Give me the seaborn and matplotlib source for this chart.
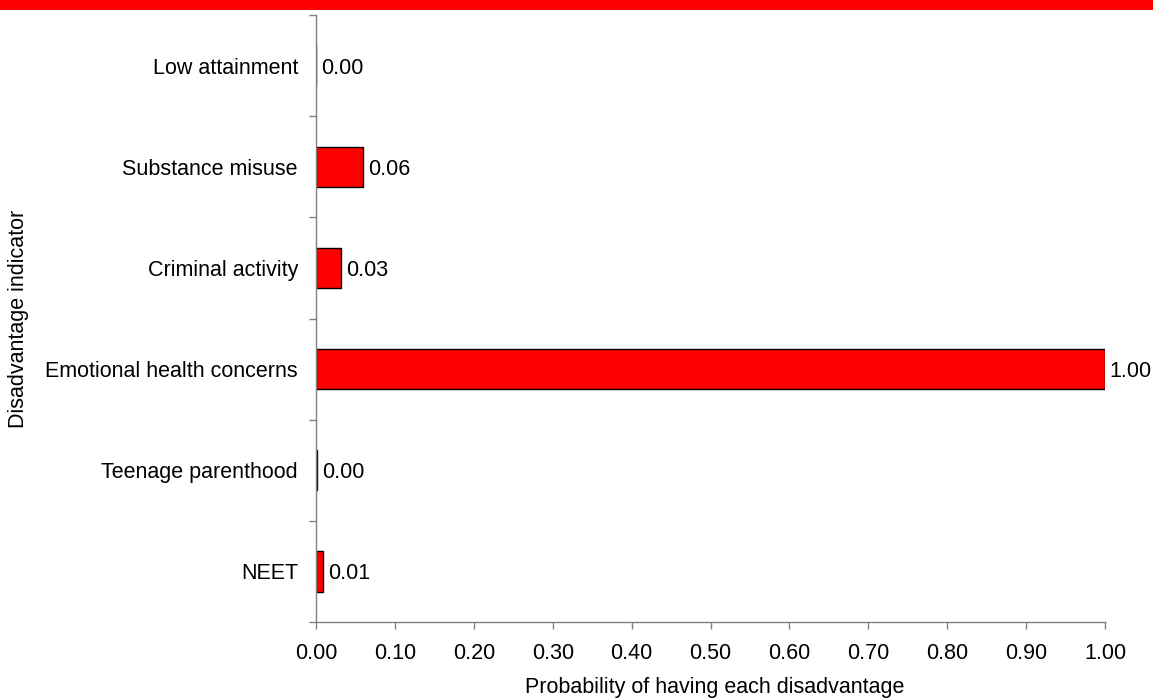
import numpy as np
import pandas as pd
import matplotlib
matplotlib.use("Agg")
import matplotlib.pyplot as plt
import seaborn as sns
from matplotlib.patches import Rectangle

categories = ["Low attainment", "Substance misuse", "Criminal activity",
              "Emotional health concerns", "Teenage parenthood", "NEET"]
values = [0.0, 0.060, 0.032, 1.0, 0.001, 0.009]
labels = ["0.00", "0.06", "0.03", "1.00", "0.00", "0.01"]
xticks = [0.0, 0.1, 0.2, 0.3, 0.4, 0.5, 0.6, 0.7, 0.8, 0.9, 1.0]

sns.set_theme(style="white")
plt.rcParams['font.family'] = ['Liberation Sans', 'DejaVu Sans']
plt.rcParams['text.color'] = 'black'
plt.rcParams['axes.labelcolor'] = 'black'

df = pd.DataFrame({"cat": categories, "val": values})

fig = plt.figure(figsize=(11.53, 7.0), dpi=100)
ax = fig.add_axes([316/1153, 1-622/700, (1105-316)/1153, (622-15)/700])

sns.barplot(data=df, x="val", y="cat", orient="h", color="#ff0000",
            saturation=1, width=0.4, edgecolor="black", linewidth=1, ax=ax)

for cont in ax.containers:
    anns = ax.bar_label(cont, labels=labels, padding=3.5, fontsize=15.5, color="black")
    for a in anns:
        a.set_va("center_baseline")

gray = "#808080"
ax.set_xlim(0, 1.0)
ax.set_ylim(5.5, -0.5)
ax.set_xticks(xticks)
ax.set_xticklabels([f"{t:.2f}" for t in xticks], fontsize=15.5)
ax.set_yticks(range(len(categories)))
ax.set_yticklabels(categories, fontsize=15.5)
ax.set_yticks(np.arange(-0.5, len(categories)), minor=True)
ax.tick_params(axis="y", which="major", length=0, pad=13, labelcolor="black")
ax.tick_params(axis="y", which="minor", length=5, color=gray, width=1, left=True)
ax.tick_params(axis="x", which="major", length=5, color=gray, width=1, bottom=True,
               pad=10, labelcolor="black")

for s in ["top", "right"]:
    ax.spines[s].set_visible(False)
for s in ["left", "bottom"]:
    ax.spines[s].set_color(gray)
    ax.spines[s].set_linewidth(1)

ax.set_xlabel("Probability of having each disadvantage", fontsize=15.5)
ax.set_ylabel("Disadvantage indicator", fontsize=15.5)
ax.xaxis.set_label_coords((715-316)/789, -(677-622)/607)
ax.yaxis.set_label_coords(-(316-29)/789, 0.5)

fig.patches.append(Rectangle((0, 1-10/700), 1, 10/700, transform=fig.transFigure,
                             facecolor="#ff0000", edgecolor="none", zorder=10))

fig.savefig("out.png", dpi=100)
